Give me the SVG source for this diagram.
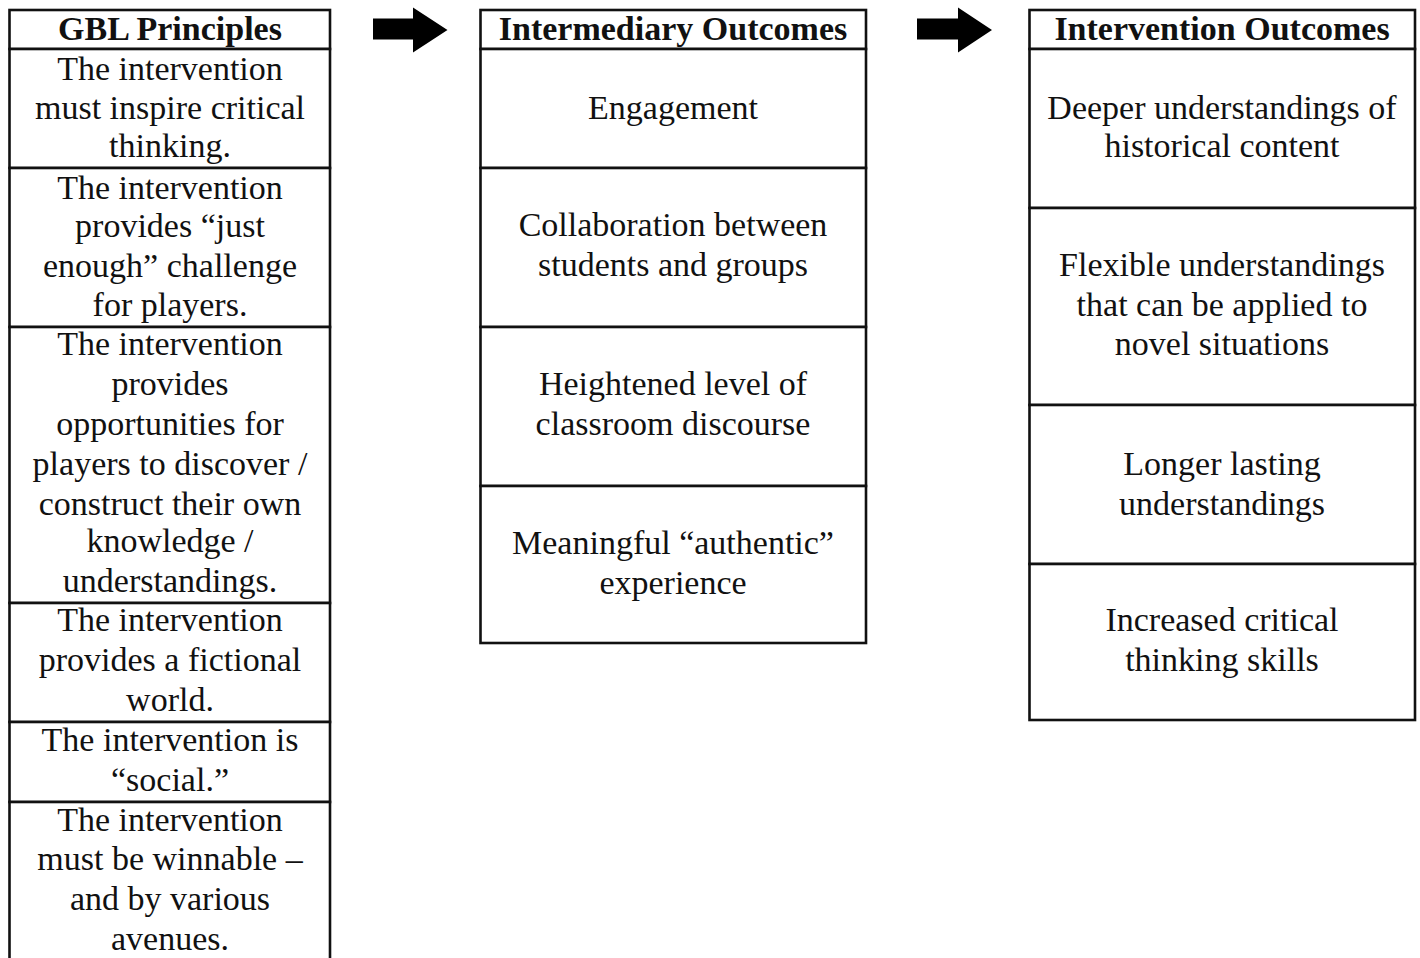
<svg xmlns="http://www.w3.org/2000/svg" width="1420" height="958" viewBox="0 0 1420 958">
<style>
.cell{fill:#fff;stroke:#111;stroke-width:2.6}
.t{font-family:"Liberation Serif","Times New Roman",serif;font-size:34px;fill:#111;text-anchor:middle}
.h{font-weight:bold}
.arr{fill:#000}
</style>
<rect width="1420" height="958" fill="#fff"/>
<g id="connectors">
<polygon class="arr" points="373,18.5 413,18.5 413,7.5 447.5,30 413,52.5 413,39.5 373,39.5"/>
<polygon class="arr" points="917,18.5 958,18.5 958,7.5 992,30 958,52.5 958,39.5 917,39.5"/>
</g>
<g id="gbl-principles">
<rect class="cell" x="9.5" y="10" width="320.5" height="39"/>
<text class="t h" x="170" y="40">GBL Principles</text>
</g>
<g id="gbl-1">
<rect class="cell" x="9.5" y="49" width="320.5" height="119"/>
<text class="t" x="170" y="80">The intervention</text>
<text class="t" x="170" y="119">must inspire critical</text>
<text class="t" x="170" y="157">thinking.</text>
</g>
<g id="gbl-2">
<rect class="cell" x="9.5" y="168" width="320.5" height="159"/>
<text class="t" x="170" y="199">The intervention</text>
<text class="t" x="170" y="237">provides “just</text>
<text class="t" x="170" y="277">enough” challenge</text>
<text class="t" x="170" y="316">for players.</text>
</g>
<g id="gbl-3">
<rect class="cell" x="9.5" y="327" width="320.5" height="276"/>
<text class="t" x="170" y="355">The intervention</text>
<text class="t" x="170" y="395">provides</text>
<text class="t" x="170" y="435">opportunities for</text>
<text class="t" x="170" y="475">players to discover /</text>
<text class="t" x="170" y="515">construct their own</text>
<text class="t" x="170" y="552">knowledge /</text>
<text class="t" x="170" y="592">understandings.</text>
</g>
<g id="gbl-4">
<rect class="cell" x="9.5" y="603" width="320.5" height="119"/>
<text class="t" x="170" y="631">The intervention</text>
<text class="t" x="170" y="671">provides a fictional</text>
<text class="t" x="170" y="711">world.</text>
</g>
<g id="gbl-5">
<rect class="cell" x="9.5" y="722" width="320.5" height="80"/>
<text class="t" x="170" y="751">The intervention is</text>
<text class="t" x="170" y="791">“social.”</text>
</g>
<g id="gbl-6">
<rect class="cell" x="9.5" y="802" width="320.5" height="170"/>
<text class="t" x="170" y="831">The intervention</text>
<text class="t" x="170" y="870">must be winnable –</text>
<text class="t" x="170" y="910">and by various</text>
<text class="t" x="170" y="950">avenues.</text>
</g>
<g id="intermediary-outcomes">
<rect class="cell" x="480.5" y="10" width="385.5" height="39"/>
<text class="t h" x="673" y="40">Intermediary Outcomes</text>
</g>
<g id="im-1">
<rect class="cell" x="480.5" y="49" width="385.5" height="119"/>
<text class="t" x="673" y="119">Engagement</text>
</g>
<g id="im-2">
<rect class="cell" x="480.5" y="168" width="385.5" height="159"/>
<text class="t" x="673" y="236">Collaboration between</text>
<text class="t" x="673" y="276">students and groups</text>
</g>
<g id="im-3">
<rect class="cell" x="480.5" y="327" width="385.5" height="159"/>
<text class="t" x="673" y="395">Heightened level of</text>
<text class="t" x="673" y="435">classroom discourse</text>
</g>
<g id="im-4">
<rect class="cell" x="480.5" y="486" width="385.5" height="157"/>
<text class="t" x="673" y="554">Meaningful “authentic”</text>
<text class="t" x="673" y="594">experience</text>
</g>
<g id="intervention-outcomes">
<rect class="cell" x="1029.5" y="10" width="385.5" height="39"/>
<text class="t h" x="1222" y="40">Intervention Outcomes</text>
</g>
<g id="io-1">
<rect class="cell" x="1029.5" y="49" width="385.5" height="159"/>
<text class="t" x="1222" y="119">Deeper understandings of</text>
<text class="t" x="1222" y="157">historical content</text>
</g>
<g id="io-2">
<rect class="cell" x="1029.5" y="208" width="385.5" height="197"/>
<text class="t" x="1222" y="276">Flexible understandings</text>
<text class="t" x="1222" y="316">that can be applied to</text>
<text class="t" x="1222" y="355">novel situations</text>
</g>
<g id="io-3">
<rect class="cell" x="1029.5" y="405" width="385.5" height="159"/>
<text class="t" x="1222" y="475">Longer lasting</text>
<text class="t" x="1222" y="515">understandings</text>
</g>
<g id="io-4">
<rect class="cell" x="1029.5" y="564" width="385.5" height="156"/>
<text class="t" x="1222" y="631">Increased critical</text>
<text class="t" x="1222" y="671">thinking skills</text>
</g>
</svg>
